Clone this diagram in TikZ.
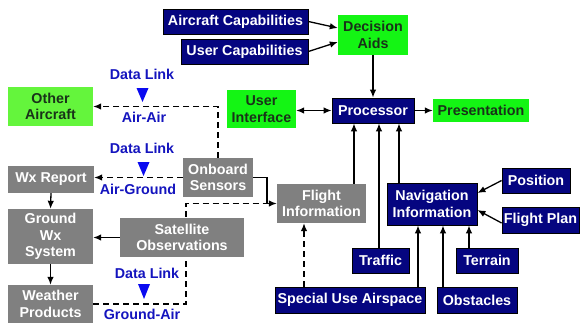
\documentclass[tikz,border=0pt]{standalone}
\usepackage{fontspec}
\setmainfont{Liberation Sans}
\usetikzlibrary{arrows.meta,backgrounds}
\definecolor{navyb}{RGB}{5,5,128}
\definecolor{brgreen}{RGB}{20,245,20}
\definecolor{ltgreen}{RGB}{100,245,60}
\definecolor{boxgray}{RGB}{128,128,128}
\definecolor{dlblue}{RGB}{20,20,190}
\definecolor{trib}{RGB}{10,10,240}
\definecolor{gtext}{RGB}{25,50,25}
\begin{document}
\begin{tikzpicture}[x=1pt,y=-1pt,
  every node/.style={font=\fontsize{14.3}{16.5}\selectfont\bfseries, align=center, inner sep=0pt},
  navybox/.style={draw=black, line width=0.8pt, fill=navyb, text=white},
  greenbox/.style={fill=brgreen, text=gtext},
  graybox/.style={fill=boxgray, text=white},
  arr/.style={line width=1.3pt, -{Latex[length=8pt,width=6.5pt]}},
  darr/.style={line width=1.3pt, {Latex[length=8pt,width=6.5pt]}-{Latex[length=8pt,width=6.5pt]}},
  plain/.style={line width=1.3pt},
  dsh/.style={dash pattern=on 6pt off 4pt},
  dltext/.style={text=dlblue},
  tripath/.style={fill=trib},
]
\useasboundingbox (0,0) rectangle (583,324);

% boxes
\node[navybox, minimum width=145pt, minimum height=25pt] (ac) at (235.5,21.5) {Aircraft Capabilities};
\node[navybox, minimum width=127pt, minimum height=25pt] (uc) at (244.5,51.5) {User Capabilities};
\node[greenbox, minimum width=70pt, minimum height=40pt] (da) at (373,35) {Decision\\Aids};
\node[greenbox, fill=ltgreen, minimum width=85pt, minimum height=39pt] (oa) at (50.5,106.5) {Other\\Aircraft};
\node[greenbox, minimum width=69pt, minimum height=38pt] (ui) at (261.5,109) {User\\Interface};
\node[navybox, minimum width=82pt, minimum height=25pt] (pr) at (373,110.5) {Processor};
\node[greenbox, minimum width=96pt, minimum height=23pt] (pres) at (481,110.5) {Presentation};
\node[graybox, minimum width=86pt, minimum height=27pt] (wx) at (51,179.5) {Wx Report};
\node[graybox, minimum width=70pt, minimum height=39pt] (os) at (218,177.5) {Onboard\\Sensors};
\node[graybox, minimum width=85pt, minimum height=55pt] (gws) at (50.5,236.5) {Ground\\Wx\\System};
\node[graybox, minimum width=124pt, minimum height=39pt] (so) at (182,237.5) {Satellite\\Observations};
\node[graybox, minimum width=85pt, minimum height=38pt] (wp) at (50.5,304) {Weather\\Products};
\node[graybox, minimum width=89pt, minimum height=39pt] (fi) at (321.5,203.5) {Flight\\Information};
\node[navybox, minimum width=90pt, minimum height=42pt] (nav) at (432,204) {Navigation\\Information};
\node[navybox, minimum width=68pt, minimum height=25pt] (pos) at (536,180.5) {Position};
\node[navybox, minimum width=77pt, minimum height=26pt] (fp) at (540.5,220) {Flight Plan};
\node[navybox, minimum width=57pt, minimum height=25pt] (tr) at (380.5,260.5) {Traffic};
\node[navybox, minimum width=62pt, minimum height=25pt] (te) at (487,260.5) {Terrain};
\node[navybox, minimum width=150pt, minimum height=26pt] (sua) at (350,300) {Special Use Airspace};
\node[navybox, minimum width=80pt, minimum height=26pt] (ob) at (477,300) {Obstacles};

% data link labels
\node[dltext] (dl1) at (142,74) {Data Link};
\node[dltext] (aa) at (144,117) {Air-Air};
\node[dltext] (dl2) at (142,148) {Data Link};
\node[dltext] (ag) at (138,189) {Air-Ground};
\node[dltext] (dl3) at (147,273) {Data Link};
\node[dltext] (ga) at (142,314) {Ground-Air};
\fill[tripath] (136.5,88) -- (148.5,88) -- (142.5,102) -- cycle;
\fill[tripath] (137.5,162) -- (149.5,162) -- (143.5,176) -- cycle;
\fill[tripath] (138,284) -- (150,284) -- (144,299) -- cycle;

% helper coordinates
\coordinate (p1) at (354,0);
\coordinate (p2) at (379,0);
\coordinate (p3) at (399,0);
\coordinate (p4) at (469,0);
\coordinate (p5) at (443,0);
\coordinate (p6) at (418,0);
\coordinate (p7) at (304,0);
\coordinate (c1) at (267,203.5);
\coordinate (c2) at (186,0);

% connectors
\draw[arr] (ac.east) -- ([yshift=7pt]da.west);
\draw[arr] (uc.east) -- ([yshift=-7pt]da.west);
\draw[arr] (da.south) -- (pr.north);
\draw[darr] (ui.east |- pr.west) -- (pr.west);
\draw[arr] (pr.east) -- (pres.west);
\draw[arr] (fi.north -| p1) -- (pr.south -| p1);
\draw[arr] (tr.north -| p2) -- (pr.south -| p2);
\draw[arr] (nav.north -| p3) -- (pr.south -| p3);
\draw[arr] (pos.west) -- ([yshift=11pt]nav.east);
\draw[arr] ([yshift=-3pt]fp.west) -- ([yshift=-6pt]nav.east);
\draw[arr] (te.north -| p4) -- (nav.south -| p4);
\draw[arr] (ob.north -| p5) -- (nav.south -| p5);
\draw[arr] (sua.north -| p6) -- (nav.south -| p6);
\draw[arr, dsh] (sua.north -| p7) -- (fi.south -| p7);
\draw[plain] (os.east) -| (c1);
\draw[arr] (c1) -- (fi.west);
\begin{scope}[on background layer]
\draw[plain, dsh] (wp.east) -- (wp.east -| c2) -- (c2 |- c1) -- (c1);
\end{scope}
\draw[arr, dsh] (os.north) |- (oa.east);
\draw[arr, dsh] (os.west) -- (os.west -| wx.east);
\draw[arr] (wx.south) -- (gws.north);
\draw[arr] (gws.south) -- (wp.north);
\draw[arr] (so.west) -- (so.west -| gws.east);
\end{tikzpicture}
\end{document}
